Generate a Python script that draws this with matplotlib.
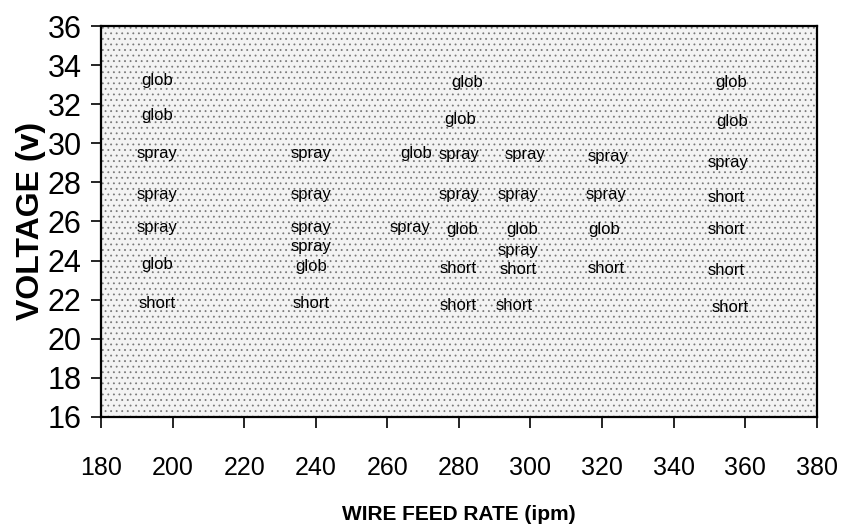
import matplotlib.pyplot as plt
import matplotlib as mpl
from matplotlib.patches import Rectangle

mpl.rcParams['font.family'] = ['Liberation Sans', 'DejaVu Sans']
mpl.rcParams['hatch.color'] = '#7a7a7a'
mpl.rcParams['hatch.linewidth'] = 0.6

## DATA (wire feed rate in ipm, voltage in V, transfer mode)

col1_wfr = [195.6, 195.6, 195.6, 195.6, 195.6, 195.6, 195.6]
col1_v = [33.2, 31.4, 29.5, 27.4, 25.7, 23.8, 21.8]
col1_mode = ['glob', 'glob', 'spray', 'spray', 'spray', 'glob', 'short']

col2_wfr = [238.7, 238.7, 238.7, 238.7, 238.7, 238.7]
col2_v = [29.5, 27.4, 25.7, 24.7, 23.7, 21.8]
col2_mode = ['spray', 'spray', 'spray', 'spray', 'glob', 'short']

col3_wfr = [268.0, 266.3]
col3_v = [29.5, 25.7]
col3_mode = ['glob', 'spray']

col4_wfr = [282.2, 280.3, 280.0, 280.0, 280.8, 279.7, 279.7]
col4_v = [33.1, 31.2, 29.4, 27.4, 25.6, 23.6, 21.7]
col4_mode = ['glob', 'glob', 'spray', 'spray', 'glob', 'short', 'short']

col5_wfr = [298.4, 296.5, 297.6, 296.5, 296.5, 295.4]
col5_v = [29.4, 27.4, 25.6, 24.5, 23.55, 21.7]
col5_mode = ['spray', 'spray', 'glob', 'spray', 'short', 'short']

col6_wfr = [321.6, 321.1, 320.5, 321.1]
col6_v = [29.3, 27.4, 25.6, 23.6]
col6_mode = ['spray', 'spray', 'glob', 'short']

col7_wfr = [356.1, 356.4, 355.1, 354.6, 354.6, 354.6, 355.7]
col7_v = [33.1, 31.1, 29.0, 27.2, 25.6, 23.5, 21.6]
col7_mode = ['glob', 'glob', 'spray', 'short', 'short', 'short', 'short']

x_ticks = [180, 200, 220, 240, 260, 280, 300, 320, 340, 360, 380]
y_ticks = [16, 18, 20, 22, 24, 26, 28, 30, 32, 34, 36]


def main() -> None:
	fig = plt.figure(figsize=(8.42, 5.31), dpi=100)
	ax = fig.add_axes([0.12, 0.215, 0.85, 0.736])
	ax.set_xlim(180, 380)
	ax.set_ylim(16, 36)

	## stippled background
	ax.set_facecolor('#f3f3f3')
	ax.add_patch(Rectangle((0, 0), 1, 1, transform=ax.transAxes, facecolor='none',
				hatch='...', lw=0, zorder=0))

	columns = [(col1_wfr, col1_v, col1_mode), (col2_wfr, col2_v, col2_mode),
			(col3_wfr, col3_v, col3_mode), (col4_wfr, col4_v, col4_mode),
			(col5_wfr, col5_v, col5_mode), (col6_wfr, col6_v, col6_mode),
			(col7_wfr, col7_v, col7_mode)]
	for wfr, volts, modes in columns:
		for x, y, m in zip(wfr, volts, modes):
			ax.text(x, y, m, fontsize=12, ha='center', va='center',
					color='black', zorder=3)

	ax.set_xticks(x_ticks)
	ax.set_yticks(y_ticks)
	ax.tick_params(axis='x', direction='out', length=8, width=1.2, pad=20, labelsize=18)
	ax.tick_params(axis='y', direction='out', length=7, width=1.2, pad=7, labelsize=22)
	for s in ax.spines.values():
		s.set_linewidth(1.6)
		s.set_color('black')

	ax.set_xlabel('WIRE FEED RATE (ipm)', fontsize=15, fontweight='bold', labelpad=18)
	ax.set_ylabel('VOLTAGE (v)', fontsize=23, fontweight='bold', labelpad=1)

	fig.savefig('out.png', dpi=100)


if __name__ == '__main__':
	main()
